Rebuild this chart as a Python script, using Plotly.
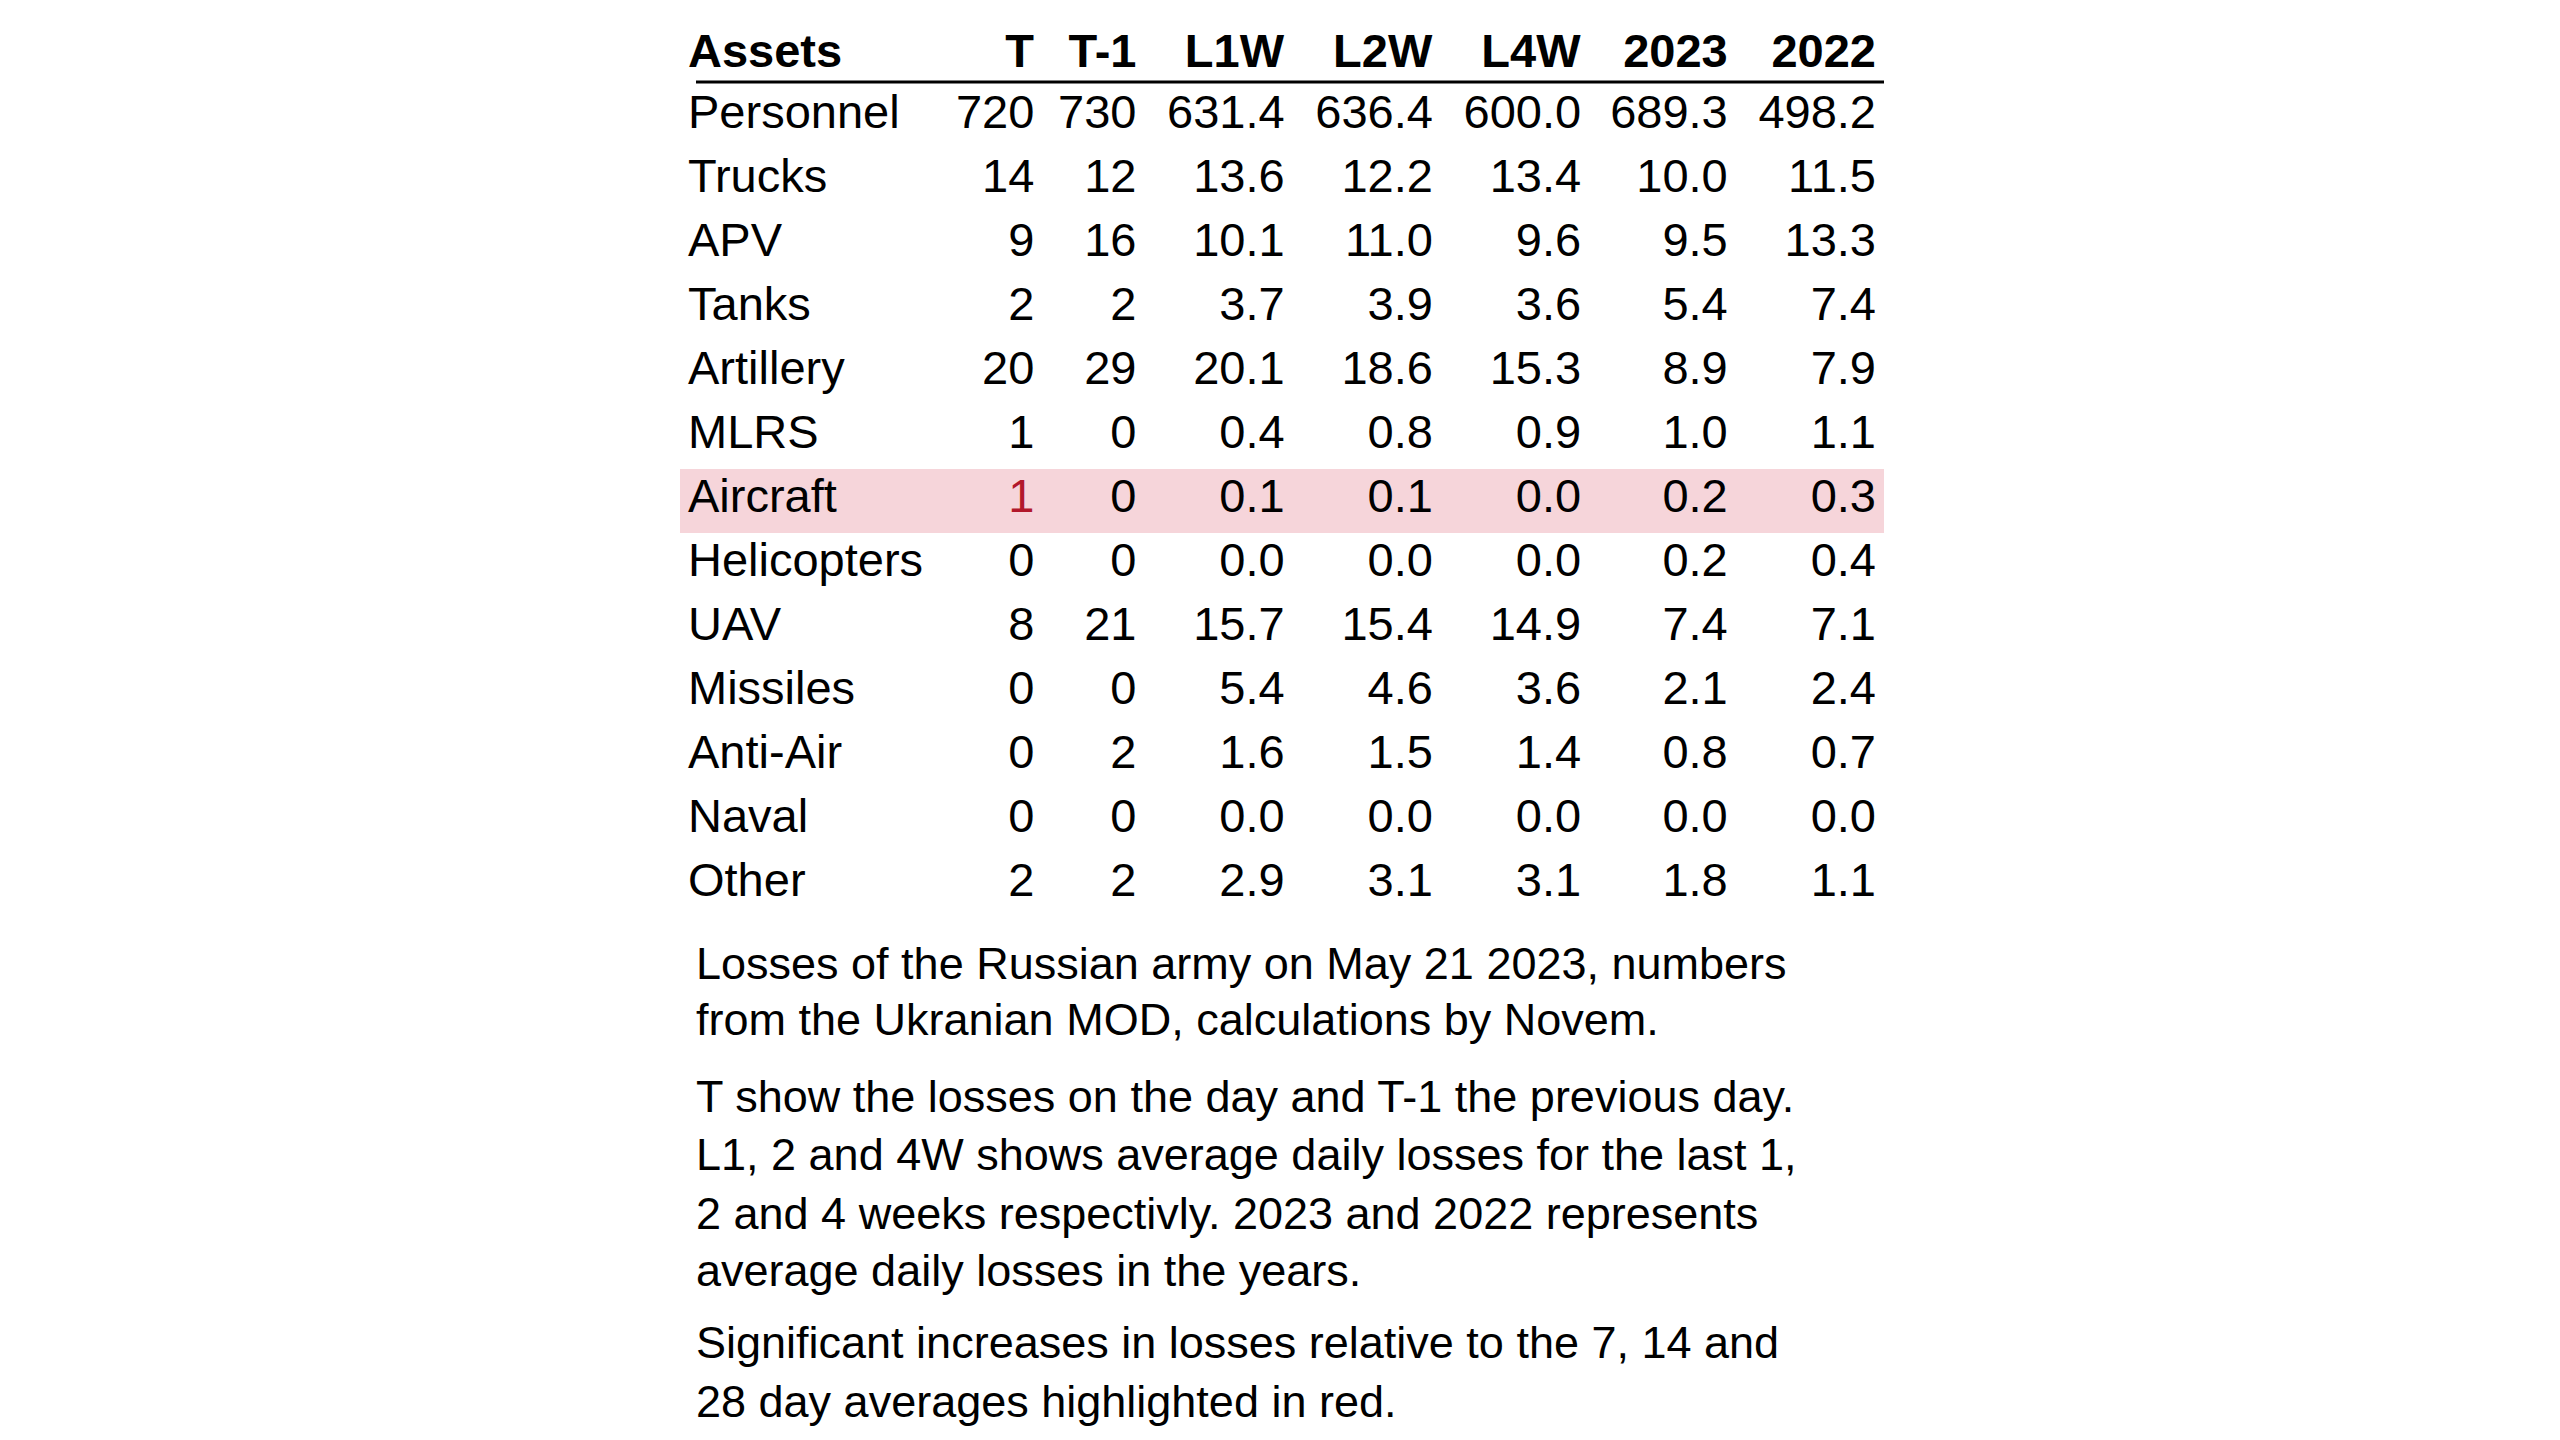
import plotly.graph_objects as go

# %% data
columns = ['Assets', 'T', 'T-1', 'L1W', 'L2W', 'L4W', '2023', '2022']
assets = ['Personnel', 'Trucks', 'APV', 'Tanks', 'Artillery', 'MLRS', 'Aircraft',
          'Helicopters', 'UAV', 'Missiles', 'Anti-Air', 'Naval', 'Other']
t = [720, 14, 9, 2, 20, 1, 1, 0, 8, 0, 0, 0, 2]
t1 = [730, 12, 16, 2, 29, 0, 0, 0, 21, 0, 2, 0, 2]
l1w = [631.4, 13.6, 10.1, 3.7, 20.1, 0.4, 0.1, 0.0, 15.7, 5.4, 1.6, 0.0, 2.9]
l2w = [636.4, 12.2, 11.0, 3.9, 18.6, 0.8, 0.1, 0.0, 15.4, 4.6, 1.5, 0.0, 3.1]
l4w = [600.0, 13.4, 9.6, 3.6, 15.3, 0.9, 0.0, 0.0, 14.9, 3.6, 1.4, 0.0, 3.1]
y2023 = [689.3, 10.0, 9.5, 5.4, 8.9, 1.0, 0.2, 0.2, 7.4, 2.1, 0.8, 0.0, 1.8]
y2022 = [498.2, 11.5, 13.3, 7.4, 7.9, 1.1, 0.3, 0.4, 7.1, 2.4, 0.7, 0.0, 1.1]
highlight_row = 'Aircraft'
highlight_col = 'T'

notes = [
    'Losses of the Russian army on May 21 2023, numbers',
    'from the Ukranian MOD, calculations by Novem.',
    'T show the losses on the day and T-1 the previous day.',
    'L1, 2 and 4W shows average daily losses for the last 1,',
    '2 and 4 weeks respectivly. 2023 and 2022 represents',
    'average daily losses in the years.',
    'Significant increases in losses relative to the 7, 14 and',
    '28 day averages highlighted in red.',
]
note_y = [955, 1012, 1088, 1146, 1205, 1262, 1334, 1393]

# %% build
W, H = 2560, 1440
x0, x1 = 672, 1876
pink = '#f6d5da'
red = '#b2182b'
FONT = 'Liberation Sans'

values = [assets, t, t1,
          [f'{v:.1f}' for v in l1w], [f'{v:.1f}' for v in l2w],
          [f'{v:.1f}' for v in l4w], [f'{v:.1f}' for v in y2023],
          [f'{v:.1f}' for v in y2022]]
row_fill = [pink if a == highlight_row else 'white' for a in assets]
fills = [row_fill] * len(columns)
font_colors = []
for c in columns:
    if c == highlight_col:
        font_colors.append([red if a == highlight_row else 'black' for a in assets])
    else:
        font_colors.append(['black'] * len(assets))

fig = go.Figure(go.Table(
    domain=dict(x=[x0 / W, x1 / W], y=[0, 1 - 8 / H]),
    columnwidth=[160, 60, 62, 90, 90, 90, 89, 90],
    header=dict(values=[f'<b>{c}</b>' for c in columns],
                align=['left'] + ['right'] * 7, height=64,
                fill_color='white', line_color='white', line_width=1,
                font=dict(family=FONT, size=47, color='black')),
    cells=dict(values=values, align=['left'] + ['right'] * 7, height=64,
               fill_color=fills, line_color=fills, line_width=1,
               font=dict(family=FONT, size=47, color=font_colors)),
))

fig.add_shape(type='line', xref='paper', yref='paper',
              x0=(x0 + 16) / W, x1=x1 / W, y0=1 - 74 / H, y1=1 - 74 / H,
              line=dict(color='black', width=3))

for txt, yy in zip(notes, note_y):
    fig.add_annotation(text=txt, xref='paper', yref='paper', x=(x0 + 14) / W, y=1 - yy / H,
                       xanchor='left', yanchor='middle', showarrow=False,
                       font=dict(family=FONT, size=45, color='black'))

fig.update_layout(width=W, height=H, margin=dict(l=0, r=0, t=0, b=0),
                  paper_bgcolor='white', plot_bgcolor='white')

fig.write_html("out.html")
